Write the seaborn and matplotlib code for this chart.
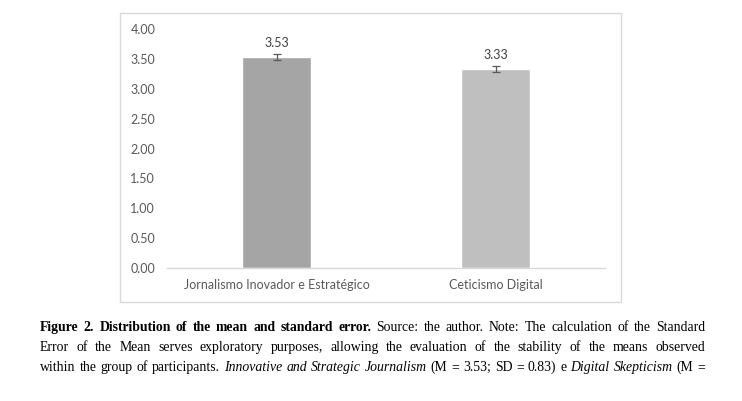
import matplotlib
matplotlib.use("Agg")
import matplotlib.pyplot as plt
import seaborn as sns
import pandas as pd
from matplotlib.patches import Rectangle

categories = ["Jornalismo Inovador e Estratégico", "Ceticismo Digital"]
means = [3.53, 3.33]
std_errors = [0.05, 0.05]
bar_colors = ["#A5A5A5", "#BFBFBF"]
y_ticks = [0.0, 0.5, 1.0, 1.5, 2.0, 2.5, 3.0, 3.5, 4.0]

caption_lines = [
    [("Figure 2. Distribution of the mean and standard error.", "bold"),
     ("Source: the author. Note: The calculation of the Standard", "normal")],
    [("Error of the Mean serves exploratory purposes, allowing the evaluation of the stability of the means observed", "normal")],
    [("within the group of participants.", "normal"),
     ("Innovative and Strategic Journalism", "italic"),
     ("(M = 3.53; SD = 0.83) e", "normal"),
     ("Digital Skepticism", "italic"),
     ("(M =", "normal")],
]

sns.set_theme(style="white")
plt.rcParams['font.family'] = ['Lato', 'DejaVu Sans']

W, H = 742, 401
fig = plt.figure(figsize=(W / 100, H / 100), dpi=100)

# chart frame
fig.patches.append(Rectangle((120 / W, 1 - 302 / H), (621 - 120) / W, (302 - 13) / H,
                             transform=fig.transFigure, fill=False,
                             edgecolor="#D9D9D9", linewidth=1.0))

ax = fig.add_axes([167 / W, 1 - 268 / H, (605 - 167) / W, (268 - 29) / H])
df = pd.DataFrame({"cat": categories, "mean": means})
sns.barplot(data=df, x="cat", y="mean", hue="cat", palette=bar_colors,
            width=0.315, legend=False, ax=ax, saturation=1)
ax.errorbar(range(len(categories)), means, yerr=std_errors, fmt="none",
            ecolor="#595959", elinewidth=0.9, capsize=3, capthick=0.9)
for i, m in enumerate(means):
    ax.annotate(f"{m:.2f}", (i, m), xytext=(0, 6), textcoords="offset points",
                ha="center", va="bottom", fontsize=9, color="#404040")

ax.set_xlim(-0.5, len(categories) - 0.5)
ax.set_ylim(0, 4)
ax.set_yticks(y_ticks)
ax.set_yticklabels([f"{t:.2f}" for t in y_ticks])
ax.set_xlabel("")
ax.set_ylabel("")
for s in ["top", "right", "left"]:
    ax.spines[s].set_visible(False)
ax.spines["bottom"].set_color("#D9D9D9")
ax.spines["bottom"].set_linewidth(1.0)
ax.tick_params(axis="both", length=0, labelsize=9, labelcolor="#595959")
ax.tick_params(axis="y", pad=8.5)
ax.tick_params(axis="x", pad=8)
ax.set_facecolor("white")

# caption, justified word by word
renderer = fig.canvas.get_renderer()
x_left, x_right = 40, 705
line_y = [331, 351, 371]
serif = ['Liberation Serif', 'DejaVu Serif']


def style_kw(style, size):
    kw = dict(family=serif, fontsize=size, color="black")
    if style == "bold":
        kw["fontweight"] = "bold"
    if style == "italic":
        kw["fontstyle"] = "italic"
    return kw


def split_words(segs):
    out = []
    for text, style in segs:
        for w in text.split(" "):
            out.append((w, style))
    return out


# find a font size where the widest line fits with normal word spacing
probe_space = fig.text(0, 0, "a a", **style_kw("normal", 10))
probe_aa = fig.text(0, 0, "aa", **style_kw("normal", 10))
space_w = (probe_space.get_window_extent(renderer).width
           - probe_aa.get_window_extent(renderer).width)
probe_space.remove()
probe_aa.remove()
natural = []
for segs in caption_lines:
    words = split_words(segs)
    tot = 0
    for w, style in words:
        t = fig.text(0, 0, w, **style_kw(style, 10))
        tot += t.get_window_extent(renderer).width
        t.remove()
    natural.append(tot + space_w * (len(words) - 1))
fs = 10 * (x_right - x_left) / max(natural) * 0.985

for li, segs in enumerate(caption_lines):
    words = split_words(segs)
    objs = []
    total = 0
    for w, style in words:
        t = fig.text(0, 0, w, va="baseline", ha="left", **style_kw(style, fs))
        bb = t.get_window_extent(renderer)
        objs.append((t, bb.width))
        total += bb.width
    gap = (x_right - x_left - total) / (len(objs) - 1)
    x = x_left
    for t, wdt in objs:
        t.set_position((x / W, 1 - line_y[li] / H))
        x += wdt + gap

fig.savefig("out.png", dpi=100, facecolor="white")
